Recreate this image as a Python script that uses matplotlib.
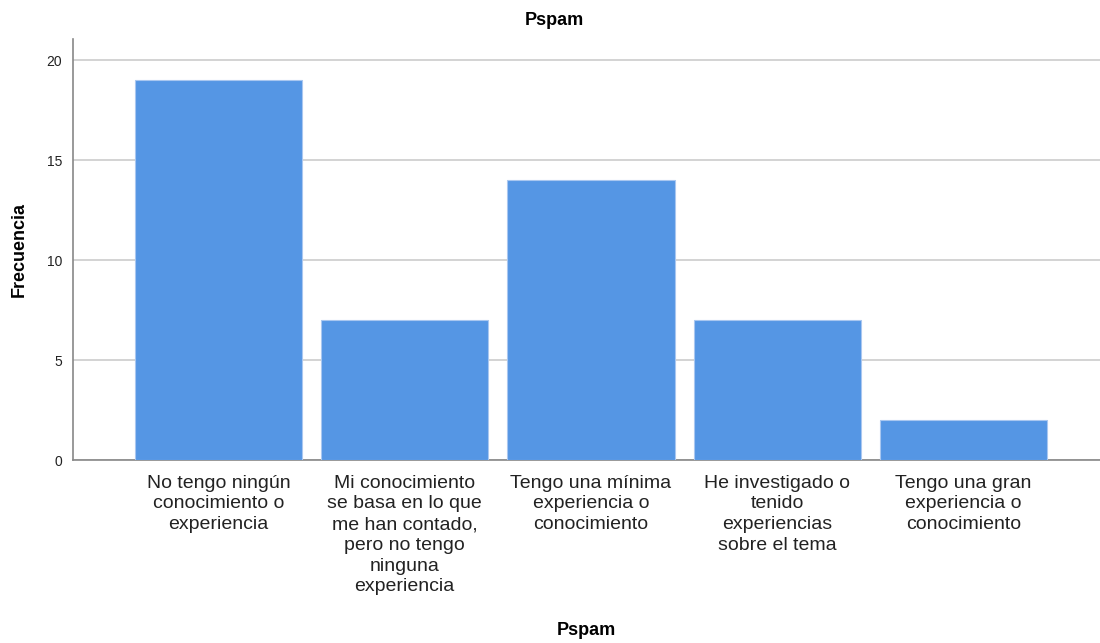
import numpy as np
import matplotlib.pyplot as plt

plt.rcParams['font.family'] = ['Liberation Sans', 'DejaVu Sans']

# data
categorias = [
    "No tengo ningún\nconocimiento o\nexperiencia",
    "Mi conocimiento\nse basa en lo que\nme han contado,\npero no tengo\nninguna\nexperiencia",
    "Tengo una mínima\nexperiencia o\nconocimiento",
    "He investigado o\ntenido\nexperiencias\nsobre el tema",
    "Tengo una gran\nexperiencia o\nconocimiento",
]
frecuencia = [19, 7, 14, 7, 2]
yticks = [0, 5, 10, 15, 20]

fig = plt.figure(figsize=(11, 6.43), dpi=100)
ax = fig.add_axes([0.0664, 0.2846, 0.9336, 0.6547])

x = np.arange(len(categorias))
ax.bar(x, frecuencia, width=0.897, color="#5596e4", edgecolor="#a9c7f0",
       linewidth=0.8, zorder=3)

ax.set_xlim(-0.781, 4.733)
ax.set_ylim(0, 21.05)
ax.set_yticks(yticks)
ax.set_xticks(x)
ax.set_xticklabels(categorias, fontsize=14, color="#222222", linespacing=1.29)
ax.tick_params(axis="both", length=0)
ax.tick_params(axis="y", labelsize=10, colors="#222222", pad=8)
ax.tick_params(axis="x", pad=10.5)

ax.grid(axis="y", color="#cccccc", linewidth=1.2, zorder=0)
for s in ["top", "right"]:
    ax.spines[s].set_visible(False)
for s in ["left", "bottom"]:
    ax.spines[s].set_color("#888888")
    ax.spines[s].set_linewidth(1.2)

ax.set_ylabel("Frecuencia", fontsize=13, fontweight="bold", labelpad=13)
ax.set_xlabel("Pspam", fontsize=13, fontweight="bold", labelpad=19)
fig.text(0.504, 0.968, "Pspam", ha="center", va="center", fontsize=13,
         fontweight="bold")

fig.savefig("out.png", dpi=100)
